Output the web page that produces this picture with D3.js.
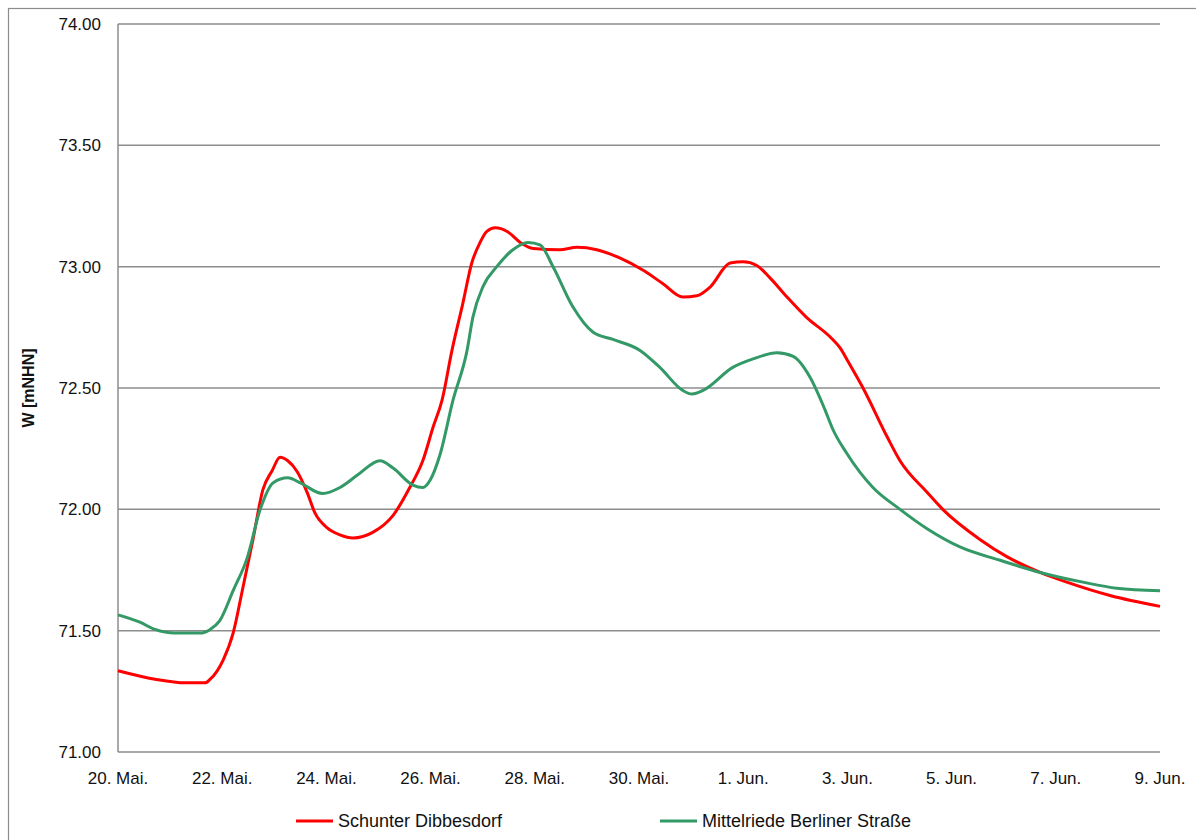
<!DOCTYPE html>
<html>
<head>
<meta charset="utf-8">
<script src="https://cdn.jsdelivr.net/npm/d3@7"></script>
<style>
  body { margin: 0; background: #fff; }
  text { font-family: "Liberation Sans", Arial, sans-serif; }
</style>
</head>
<body>
<div id="chart"></div>
<script>
// day offsets since 20 May (fractional days) and water level values [mNHN]
const redDays = [0.00, 0.71, 1.29, 1.67, 1.77, 2.02, 2.21, 2.40, 2.59, 2.78, 2.96, 3.11, 3.26, 3.44, 3.63, 3.78, 4.01, 4.26, 4.51, 4.89, 5.28, 5.60, 5.85, 6.05, 6.22, 6.41, 6.62, 6.79, 6.95, 7.08, 7.24, 7.47, 7.72, 7.97, 8.48, 8.81, 9.19, 9.64, 10.08, 10.46, 10.84, 11.11, 11.36, 11.75, 12.00, 12.26, 12.51, 12.84, 13.22, 13.67, 13.86, 14.01, 14.30, 14.76, 15.01, 15.53, 15.83, 16.55, 17.06, 17.70, 18.21, 19.04, 20.00];
const redValues = [71.335, 71.30, 71.285, 71.285, 71.30, 71.38, 71.49, 71.68, 71.875, 72.08, 72.16, 72.215, 72.20, 72.155, 72.07, 71.985, 71.925, 71.895, 71.882, 71.905, 71.975, 72.09, 72.20, 72.34, 72.45, 72.655, 72.85, 73.015, 73.10, 73.145, 73.16, 73.145, 73.10, 73.075, 73.07, 73.08, 73.07, 73.035, 72.985, 72.93, 72.875, 72.88, 72.915, 73.015, 73.02, 73.005, 72.955, 72.875, 72.79, 72.71, 72.665, 72.61, 72.50, 72.30, 72.20, 72.07, 72.00, 71.875, 71.805, 71.74, 71.70, 71.645, 71.60];

const greenDays = [0.00, 0.42, 0.71, 1.09, 1.57, 1.77, 1.95, 2.21, 2.48, 2.73, 2.98, 3.26, 3.49, 3.93, 4.26, 4.59, 5.03, 5.28, 5.66, 5.85, 5.99, 6.18, 6.43, 6.70, 6.81, 7.01, 7.27, 7.58, 7.87, 8.10, 8.35, 8.73, 9.12, 9.50, 10.02, 10.40, 10.84, 11.02, 11.23, 11.80, 12.19, 12.65, 12.96, 13.28, 13.57, 13.72, 13.99, 14.49, 15.01, 15.53, 16.16, 16.93, 17.70, 18.52, 19.17, 20.00];
const greenValues = [71.565, 71.535, 71.505, 71.49, 71.49, 71.505, 71.54, 71.665, 71.80, 72.00, 72.11, 72.13, 72.11, 72.065, 72.09, 72.14, 72.20, 72.17, 72.10, 72.09, 72.12, 72.225, 72.45, 72.655, 72.79, 72.92, 73.00, 73.07, 73.10, 73.09, 73.00, 72.835, 72.73, 72.70, 72.655, 72.585, 72.49, 72.475, 72.49, 72.585, 72.62, 72.645, 72.63, 72.545, 72.41, 72.33, 72.23, 72.09, 72.00, 71.92, 71.845, 71.79, 71.74, 71.70, 71.675, 71.665];

const seriesNames = ["Schunter Dibbesdorf", "Mittelriede Berliner Straße"];
const seriesColors = ["#ff0000", "#339966"];

const yTicks = [71.00, 71.50, 72.00, 72.50, 73.00, 73.50, 74.00];
const xTickDays = [0, 2, 4, 6, 8, 10, 12, 14, 16, 18, 20];
const xTickLabels = ["20. Mai.", "22. Mai.", "24. Mai.", "26. Mai.", "28. Mai.", "30. Mai.", "1. Jun.", "3. Jun.", "5. Jun.", "7. Jun.", "9. Jun."];

const width = 1196, height = 840;
const margin = { top: 24, right: 36, bottom: 88, left: 118 };

const svg = d3.select("#chart").append("svg")
    .attr("width", width)
    .attr("height", height);

// outer chart frame
svg.append("rect")
    .attr("x", 8.5).attr("y", 8.5)
    .attr("width", width + 10).attr("height", height + 10)
    .attr("fill", "none")
    .attr("stroke", "#8c8c8c")
    .attr("stroke-width", 1.2);

const x = d3.scaleLinear().domain([0, 20]).range([margin.left, width - margin.right]);
const y = d3.scaleLinear().domain([71, 74]).range([height - margin.bottom, margin.top]);

// gridlines
svg.append("g")
    .selectAll("line")
    .data(yTicks)
    .join("line")
        .attr("x1", x(0)).attr("x2", x(20))
        .attr("y1", d => y(d)).attr("y2", d => y(d))
        .attr("stroke", "#8c8c8c")
        .attr("stroke-width", 1.5);

// left axis line
svg.append("line")
    .attr("x1", x(0)).attr("x2", x(0))
    .attr("y1", y(74)).attr("y2", y(71))
    .attr("stroke", "#8c8c8c")
    .attr("stroke-width", 1.5);

// y tick labels
svg.append("g")
    .selectAll("text")
    .data(yTicks)
    .join("text")
        .attr("x", 101)
        .attr("y", d => y(d))
        .attr("dy", "0.35em")
        .attr("text-anchor", "end")
        .attr("font-size", 17)
        .attr("fill", "#111")
        .text(d => d.toFixed(2));

// x tick labels
svg.append("g")
    .selectAll("text")
    .data(xTickDays)
    .join("text")
        .attr("x", d => x(d))
        .attr("y", 784)
        .attr("text-anchor", "middle")
        .attr("font-size", 17)
        .attr("fill", "#111")
        .text((d, i) => xTickLabels[i]);

// y axis title
svg.append("text")
    .attr("transform", `translate(34,${y(72.5)}) rotate(-90)`)
    .attr("text-anchor", "middle")
    .attr("font-size", 16)
    .attr("font-weight", "bold")
    .attr("fill", "#111")
    .text("W [mNHN]");

const line = d3.line()
    .x(d => x(d[0]))
    .y(d => y(d[1]))
    .curve(d3.curveMonotoneX);

const series = [
    d3.zip(redDays, redValues),
    d3.zip(greenDays, greenValues)
];

series.forEach((s, i) => {
    svg.append("path")
        .datum(s)
        .attr("d", line)
        .attr("fill", "none")
        .attr("stroke", seriesColors[i])
        .attr("stroke-width", 3)
        .attr("stroke-linejoin", "round");
});

// legend
const legendX = [296, 660];
const legend = svg.append("g")
    .selectAll("g")
    .data(seriesNames)
    .join("g")
        .attr("transform", (d, i) => `translate(${legendX[i]},821)`);

legend.append("line")
    .attr("x1", 0).attr("x2", 37)
    .attr("stroke", (d, i) => seriesColors[i])
    .attr("stroke-width", 3);

legend.append("text")
    .attr("x", 42)
    .attr("dy", "0.35em")
    .attr("font-size", 18)
    .attr("fill", "#111")
    .text(d => d);
</script>
</body>
</html>
